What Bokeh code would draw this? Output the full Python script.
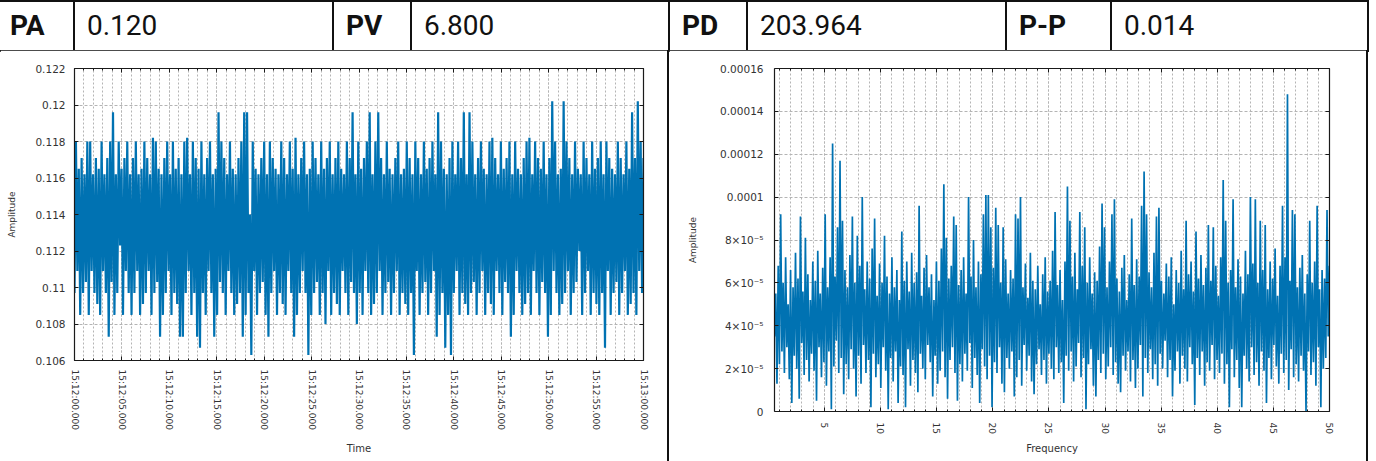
import numpy as np
from bokeh.plotting import figure
from bokeh.models import Range1d, FixedTicker, LinearAxis, Div, CustomLabelingPolicy
from bokeh.layouts import row, column
from bokeh.embed import file_html
from bokeh.resources import INLINE

# ---------------- header ----------------
header_labels = ["PA", "PV", "PD", "P-P"]
header_values = ["0.120", "6.800", "203.964", "0.014"]

# ---------------- left chart: time series (amplitude, units of 1e-4) ----------------
time_tick_seconds = [0, 5, 10, 15, 20, 25, 30, 35, 40, 45, 50, 55, 60]
time_tick_labels = ["15:12:00.000", "15:12:05.000", "15:12:10.000", "15:12:15.000",
                    "15:12:20.000", "15:12:25.000", "15:12:30.000", "15:12:35.000",
                    "15:12:40.000", "15:12:45.000", "15:12:50.000", "15:12:55.000",
                    "15:13:00.000"]
amp_left_ticks = [106, 108, 110, 112, 114, 116, 118, 120, 122]
amp_left_labels = ["0.106", "0.108", "0.11", "0.112", "0.114", "0.116", "0.118", "0.12", "0.122"]

left_hi = [
    1180, 1165, 1171, 1162, 1180, 1180, 1162, 1171, 1165, 1180, 1162, 1171, 1180, 1196, 1162, 1180, 1165, 1171, 1180, 1162,
    1171, 1180, 1162, 1165, 1180, 1171, 1162, 1182, 1180, 1165, 1162, 1171, 1180, 1162, 1180, 1165, 1171, 1162, 1180, 1182,
    1162, 1180, 1171, 1165, 1180, 1162, 1171, 1180, 1162, 1165, 1196, 1180, 1171, 1162, 1180, 1165, 1162, 1171, 1180, 1196,
    1196, 1140, 1180, 1165, 1162, 1171, 1180, 1162, 1180, 1171, 1165, 1162, 1180, 1171, 1162, 1180, 1165, 1182, 1162, 1171,
    1180, 1162, 1165, 1180, 1171, 1162, 1180, 1165, 1171, 1180, 1162, 1171, 1180, 1165, 1162, 1180, 1171, 1196, 1162, 1180,
    1165, 1171, 1180, 1196, 1162, 1180, 1196, 1171, 1162, 1180, 1165, 1162, 1171, 1180, 1162, 1165, 1180, 1171, 1162, 1180,
    1171, 1162, 1180, 1165, 1171, 1180, 1162, 1196, 1180, 1165, 1162, 1171, 1180, 1162, 1180, 1171, 1196, 1162, 1196, 1180,
    1162, 1171, 1180, 1165, 1162, 1180, 1182, 1171, 1162, 1180, 1165, 1171, 1180, 1162, 1180, 1165, 1162, 1171, 1180, 1182,
    1162, 1180, 1171, 1165, 1180, 1162, 1171, 1202, 1180, 1162, 1165, 1202, 1180, 1171, 1162, 1180, 1165, 1162, 1180, 1171,
    1162, 1180, 1165, 1171, 1180, 1162, 1180, 1171, 1165, 1162, 1180, 1171, 1162, 1180, 1165, 1196, 1171, 1202, 1180, 1171,
]
left_lo = [
    1097, 1109, 1085, 1097, 1103, 1085, 1109, 1097, 1091, 1085, 1109, 1097, 1073, 1103, 1085, 1097, 1123, 1085, 1109, 1097,
    1085, 1097, 1109, 1085, 1091, 1097, 1109, 1085, 1097, 1103, 1073, 1085, 1097, 1109, 1085, 1097, 1091, 1073, 1073, 1097,
    1109, 1085, 1097, 1073, 1067, 1097, 1085, 1109, 1097, 1073, 1085, 1103, 1097, 1085, 1109, 1097, 1085, 1091, 1097, 1073,
    1085, 1097, 1063, 1109, 1085, 1097, 1103, 1085, 1073, 1097, 1109, 1085, 1097, 1091, 1085, 1109, 1097, 1073, 1085, 1097,
    1109, 1097, 1063, 1085, 1097, 1103, 1085, 1097, 1080, 1109, 1085, 1097, 1091, 1085, 1109, 1097, 1085, 1103, 1097, 1080,
    1097, 1085, 1109, 1097, 1085, 1091, 1097, 1109, 1085, 1097, 1103, 1085, 1097, 1109, 1085, 1097, 1091, 1085, 1097, 1063,
    1109, 1085, 1097, 1103, 1085, 1097, 1109, 1073, 1085, 1097, 1067, 1085, 1063, 1097, 1109, 1085, 1097, 1091, 1085, 1097,
    1103, 1085, 1097, 1109, 1085, 1097, 1091, 1085, 1109, 1097, 1085, 1103, 1097, 1073, 1085, 1109, 1097, 1085, 1091, 1097,
    1085, 1109, 1097, 1085, 1103, 1097, 1073, 1085, 1109, 1097, 1085, 1091, 1097, 1109, 1085, 1097, 1103, 1120, 1085, 1097,
    1109, 1085, 1097, 1091, 1085, 1097, 1067, 1109, 1085, 1097, 1103, 1085, 1097, 1109, 1085, 1091, 1097, 1085, 1109, 1097,
]

# ---------------- right chart: spectrum (amplitude, units of 1e-6) ----------------
freq_start, freq_end = 0.55, 50.0
freq_ticks = [5, 10, 15, 20, 25, 30, 35, 40, 45, 50]
amp_right_ticks = [0, 20, 40, 60, 80, 100, 120, 140, 160]
amp_right_labels = ["0", "2×10⁻⁵", "4×10⁻⁵", "6×10⁻⁵", "8×10⁻⁵", "0.0001", "0.00012", "0.00014", "0.00016"]

right_hi = [
    55, 68, 92, 60, 72, 50, 66, 58, 74, 62, 91, 56, 81, 64, 52,
    70, 61, 75, 55, 67, 92, 58, 72, 125, 63, 86, 117, 89, 66, 58,
    73, 91, 60, 82, 68, 100, 57, 70, 62, 76, 90, 54, 69, 60, 82,
    63, 55, 72, 58, 66, 52, 84, 61, 70, 56, 74, 60, 65, 96, 54,
    67, 73, 58, 64, 52, 70, 61, 76, 106, 81, 62, 68, 91, 87, 59,
    66, 72, 55, 100, 63, 80, 58, 70, 64, 92, 101, 101, 86, 67, 95,
    87, 60, 86, 71, 55, 66, 62, 92, 90, 100, 58, 69, 53, 74, 61,
    57, 68, 50, 64, 72, 56, 61, 75, 93, 59, 66, 52, 70, 105, 89,
    63, 74, 57, 93, 68, 86, 60, 72, 55, 65, 61, 77, 97, 86, 58,
    70, 92, 99, 62, 56, 67, 73, 52, 64, 90, 59, 71, 63, 96, 112,
    92, 65, 58, 74, 91, 95, 61, 55, 69, 63, 72, 50, 66, 60, 75,
    57, 89, 64, 70, 56, 84, 62, 73, 59, 67, 87, 61, 86, 68, 54,
    72, 108, 89, 60, 66, 99, 58, 71, 63, 55, 75, 64, 100, 69, 99,
    60, 89, 66, 87, 57, 70, 62, 76, 54, 68, 96, 72, 148, 61, 94,
    92, 58, 67, 73, 55, 64, 89, 60, 70, 96, 57, 66, 62, 94, 68,
]
right_lo = [
    35, 13, 22, 28, 18, 30, 15, 4, 26, 20, 6, 32, 17, 24, 14,
    27, 19, 5, 30, 16, 23, 12, 28, 1, 21, 33, 18, 25, 8, 22,
    15, 29, 20, 7, 26, 13, 31, 18, 24, 2, 27, 16, 22, 11, 30,
    19, 1, 25, 14, 28, 4, 21, 17, 2, 29, 12, 24, 18, 9, 27,
    20, 15, 31, 23, 7, 26, 13, 19, 28, 16, 6, 24, 30, 18, 5,
    22, 14, 27, 19, 32, 11, 25, 17, 4, 29, 21, 15, 26, 2, 23,
    18, 30, 13, 9, 25, 20, 28, 7, 16, 24, 12, 31, 19, 26, 14,
    8, 22, 29, 17, 24, 13, 27, 20, 15, 30, 18, 23, 4, 26, 19,
    28, 14, 21, 32, 16, 25, 1, 22, 29, 12, 7, 24, 18, 27, 15,
    21, 30, 17, 23, 13, 9, 26, 19, 28, 14, 24, 11, 20, 31, 7,
    25, 18, 29, 15, 22, 12, 27, 20, 33, 16, 24, 7, 19, 28, 13,
    26, 20, 14, 30, 22, 3, 25, 17, 28, 12, 23, 19, 31, 15, 24,
    18, 27, 13, 22, 2, 29, 16, 24, 11, 2, 26, 20, 14, 30, 17,
    23, 12, 28, 19, 4, 25, 15, 31, 21, 13, 27, 18, 24, 10, 29,
    16, 22, 14, 26, 19, 0, 28, 17, 23, 12, 30, 2, 20, 25, 35,
]

# ---------------- build series ----------------
n_left = 2 * len(left_lo)
left_vals = np.empty(n_left)
left_vals[0::2] = left_lo
left_vals[1::2] = left_hi
left_vals = left_vals / 10.0           # units of 1e-3
left_t = np.linspace(0, 60, n_left)    # sample times (s)

n_right = 2 * len(right_lo)
right_vals = np.empty(n_right)
right_vals[0::2] = right_lo
right_vals[1::2] = right_hi
right_f = np.linspace(freq_start, freq_end, n_right)

BLUE = "#0072B2"
FONT = "DejaVu Sans"
GRID = "#b4b4b4"


def style_axis(ax, label_size="10.5px", standoff=10, label_standoff=15, axis_label_size="10px"):
    ax.axis_line_color = "#1a1a1a"
    ax.axis_line_width = 1.2
    ax.major_tick_in = 4
    ax.major_tick_out = 0
    ax.minor_tick_in = 2
    ax.minor_tick_out = 0
    ax.major_tick_line_color = "#1a1a1a"
    ax.minor_tick_line_color = "#1a1a1a"
    ax.major_label_text_font = FONT
    ax.major_label_text_font_size = label_size
    ax.major_label_text_color = "#333333"
    ax.major_label_standoff = standoff
    ax.axis_label_text_font = FONT
    ax.axis_label_text_font_size = axis_label_size
    ax.axis_label_text_font_style = "normal"
    ax.axis_label_text_color = "#333333"
    ax.axis_label_standoff = label_standoff


def mirror(p, ticker, side):
    ax = LinearAxis(ticker=ticker)
    style_axis(ax)
    ax.major_label_policy = CustomLabelingPolicy(code="for (const i of []) { yield i }")
    ax.major_label_standoff = 0
    ax.axis_label = None
    p.add_layout(ax, side)


# ---------------- left figure ----------------
p1 = figure(frame_width=569, frame_height=292,
            min_border_left=74, min_border_right=24, min_border_top=17, min_border_bottom=102,
            x_range=Range1d(0, 60), y_range=Range1d(106, 122),
            output_backend="svg", toolbar_location=None,
            x_axis_label="Time", y_axis_label="Amplitude")
p1.outline_line_color = None
p1.line(left_t, left_vals, line_color=BLUE, line_width=2.2)

xt1 = FixedTicker(ticks=time_tick_seconds, minor_ticks=list(range(0, 61)))
yt1 = FixedTicker(ticks=amp_left_ticks, minor_ticks=[])
p1.xaxis.ticker = xt1
p1.yaxis.ticker = yt1
p1.xaxis.major_label_overrides = dict(zip(time_tick_seconds, time_tick_labels))
p1.yaxis.major_label_overrides = dict(zip(amp_left_ticks, amp_left_labels))
style_axis(p1.xaxis[0], label_size="9px", standoff=9, label_standoff=10)
style_axis(p1.yaxis[0], label_size="10.5px", standoff=9, label_standoff=15, axis_label_size="9px")
p1.xaxis.major_label_orientation = -np.pi / 2
mirror(p1, xt1, "above")
mirror(p1, yt1, "right")

p1.xgrid.grid_line_color = GRID
p1.xgrid.grid_line_dash = "2 2"
p1.xgrid.minor_grid_line_color = GRID
p1.xgrid.minor_grid_line_dash = "2 2"
p1.ygrid.grid_line_color = GRID
p1.ygrid.grid_line_dash = "3 2"

# ---------------- right figure ----------------
p2 = figure(frame_width=555, frame_height=343,
            min_border_left=105, min_border_right=37, min_border_top=18, min_border_bottom=50,
            x_range=Range1d(freq_start, freq_end), y_range=Range1d(0, 160),
            output_backend="svg", toolbar_location=None,
            x_axis_label="Frequency", y_axis_label="Amplitude")
p2.outline_line_color = None
p2.line(right_f, right_vals, line_color=BLUE, line_width=1.7)

xt2 = FixedTicker(ticks=freq_ticks, minor_ticks=list(range(1, 51)))
yt2 = FixedTicker(ticks=amp_right_ticks, minor_ticks=[])
p2.xaxis.ticker = xt2
p2.yaxis.ticker = yt2
p2.yaxis.major_label_overrides = dict(zip(amp_right_ticks, amp_right_labels))
style_axis(p2.xaxis[0], label_size="9px", standoff=11, label_standoff=6)
style_axis(p2.yaxis[0], label_size="10.5px", standoff=11, label_standoff=19, axis_label_size="9px")
p2.xaxis.major_label_orientation = -np.pi / 2
mirror(p2, xt2, "above")
mirror(p2, yt2, "right")

p2.xgrid.grid_line_color = GRID
p2.xgrid.grid_line_dash = "2 2"
p2.xgrid.minor_grid_line_color = GRID
p2.xgrid.minor_grid_line_dash = "2 2"
p2.ygrid.grid_line_color = GRID
p2.ygrid.grid_line_dash = "3 2"

# ---------------- header table ----------------
cell_widths = [76, 259, 78, 258, 78, 259, 105, 257]
cells = []
for lab, val in zip(header_labels, header_values):
    cells.append((lab, "bold"))
    cells.append((val, "normal"))
tds = []
for i, ((txt, fw), w) in enumerate(zip(cells, cell_widths)):
    pad = 11 if i == 0 else 12
    tds.append(
        f'<td style="width:{w}px;box-sizing:border-box;border:2px solid #111;'
        f'padding:0 0 0 {pad}px;font-weight:{fw};white-space:nowrap;">{txt}</td>')
html = ('<table style="border-collapse:collapse;table-layout:fixed;width:1370px;'
        'font-family:Roboto;font-size:28px;color:#111;margin:0 0 0 -3px;">'
        '<tr style="height:50px;">' + "".join(tds) + '</tr></table>')
header = Div(text=html, width=1368, height=50, margin=(0, 0, 0, 0))

vline1 = Div(width=2, height=411, margin=(0, 0, 0, 0), styles={"background-color": "#111"})
vline2 = Div(width=2, height=411, margin=(0, 0, 0, 0), styles={"background-color": "#111"})

layout = column(header, row(p1, vline1, p2, vline2, spacing=0), spacing=0, margin=(0, 0, 0, 0))

open("out.html", "w").write(file_html(layout, INLINE))
